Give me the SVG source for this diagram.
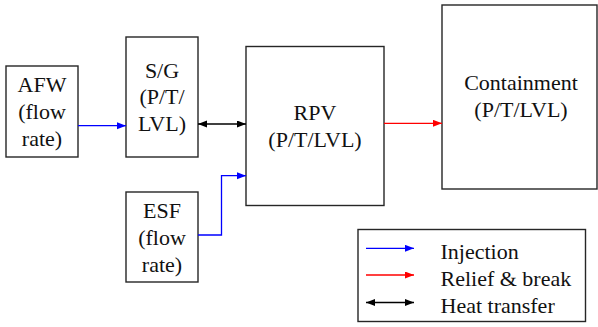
<svg xmlns="http://www.w3.org/2000/svg" width="598" height="327" viewBox="0 0 598 327">
<style>
.box{fill:#fff;stroke:#262626;stroke-width:1.4}
text{font-family:'Liberation Serif','Times New Roman',serif;font-size:22px;fill:#111;text-anchor:middle}
.lg{text-anchor:start}
.ln{fill:none;stroke-width:1.3}
.b{stroke:#0000ff}
.r{stroke:#ff0000}
.k{stroke:#000}
</style>
<defs>
<marker id="ab" markerUnits="userSpaceOnUse" markerWidth="10" markerHeight="8" refX="9" refY="3.5" orient="auto"><path d="M0,0 L9,3.5 L0,7 z" fill="#0000ff"/></marker>
<marker id="ar" markerUnits="userSpaceOnUse" markerWidth="10" markerHeight="8" refX="9" refY="3.5" orient="auto"><path d="M0,0 L9,3.5 L0,7 z" fill="#ff0000"/></marker>
<marker id="ak" markerUnits="userSpaceOnUse" markerWidth="10" markerHeight="8" refX="9" refY="3.5" orient="auto-start-reverse"><path d="M0,0 L9,3.5 L0,7 z" fill="#000"/></marker>
</defs>
<g id="afw"><rect class="box" x="6" y="66" width="72" height="91"/><text x="42" y="92.3">AFW</text><text x="42" y="119">(flow</text><text x="42" y="146">rate)</text></g>
<g id="sg"><rect class="box" x="126" y="37" width="72" height="120"/><text x="162" y="77.7">S/G</text><text x="162" y="104.4">(P/T/</text><text x="162" y="131">LVL)</text></g>
<g id="esf"><rect class="box" x="126" y="192" width="72" height="90"/><text x="162" y="218.3">ESF</text><text x="162" y="245">(flow</text><text x="162" y="272">rate)</text></g>
<g id="rpv"><rect class="box" x="246" y="46.5" width="138" height="159"/><text x="315" y="120">RPV</text><text x="315" y="146.7">(P/T/LVL)</text></g>
<g id="containment"><rect class="box" x="442" y="5" width="155" height="184"/><text x="521" y="90">Containment</text><text x="521" y="116.7">(P/T/LVL)</text></g>
<g id="connectors">
<path class="ln b" d="M78,125.7 H126" marker-end="url(#ab)"/>
<path class="ln k" d="M198,124 H246" marker-start="url(#ak)" marker-end="url(#ak)"/>
<path class="ln b" d="M198,235 H221.5 V175.7 H246" marker-end="url(#ab)"/>
<path class="ln r" d="M384,123.3 H442" marker-end="url(#ar)"/>
</g>
<g id="legend">
<rect class="box" x="358" y="229.5" width="227.5" height="92"/>
<path class="ln b" d="M366,248.3 H414" marker-end="url(#ab)"/>
<path class="ln r" d="M366,275 H414" marker-end="url(#ar)"/>
<path class="ln k" d="M366,302.5 H414" marker-start="url(#ak)" marker-end="url(#ak)"/>
<text class="lg" x="440.5" y="259.3">Injection</text>
<text class="lg" x="440.5" y="285.5">Relief &amp; break</text>
<text class="lg" x="440.5" y="312.5">Heat transfer</text>
</g>
</svg>
